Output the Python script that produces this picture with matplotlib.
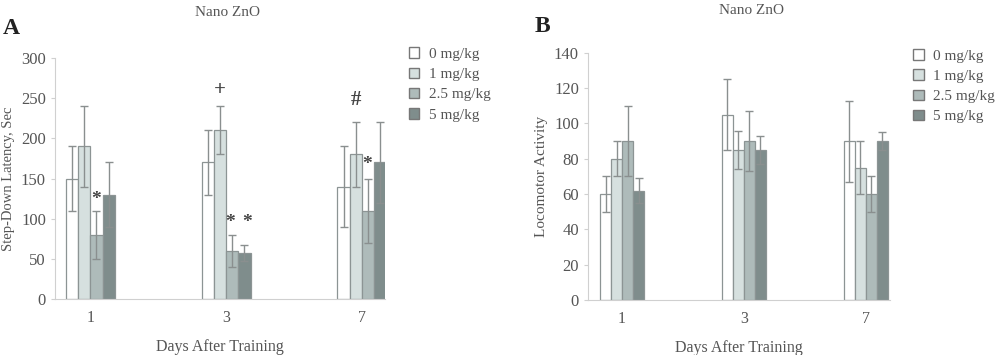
import numpy as np
import matplotlib
matplotlib.use('Agg')
import matplotlib.pyplot as plt
from matplotlib.patches import Patch

days = ['1', '3', '7']
doses = ['0 mg/kg', '1 mg/kg', '2.5 mg/kg', '5 mg/kg']
colors = ['#ffffff', '#d6e0df', '#aebbba', '#7f8d8c']

# step-down latency (sec), mean and error, rows = dose, cols = day
lat_mean = [[150, 170, 140],
            [190, 210, 180],
            [80, 60, 110],
            [130, 57, 170]]
lat_err = [[40, 40, 50],
           [50, 30, 40],
           [30, 20, 40],
           [40, 10, 50]]

# locomotor activity
loc_mean = [[60, 105, 90],
            [80, 85, 75],
            [90, 90, 60],
            [62, 85, 90]]
loc_err = [[10, 20, 23],
           [10, 11, 15],
           [20, 17, 10],
           [7, 8, 5]]

# significance marks: (day index, dose index, y, text)
lat_marks = [(0, 2, 124, '*'), (1, 1, 260, '+'), (1, 2, 96, '*'),
             (1, 3, 96, '*'), (2, 1, 248, '#'), (2, 2, 168, '*')]
mark_dx = [0, 0, -0.015, 0.02, 0, -0.01]

plt.rcParams['font.family'] = ['Liberation Serif', 'DejaVu Serif']
txt = '#555555'
edge = '#8c9494'

fig = plt.figure(figsize=(10, 3.55), dpi=100)
axA = fig.add_axes([0.055, 0.157, 0.33, 0.68])
axB = fig.add_axes([0.588, 0.155, 0.302, 0.696])

w = 0.09
x = np.arange(len(days))


def draw(ax, mean, err, ymax, step, ylabel, xlim, ylsize, tx, tpad, lgy):
    for i in range(len(doses)):
        ax.bar(x + (i - 1.5) * w, mean[i], w, color=colors[i],
               edgecolor=edge, linewidth=0.9, yerr=err[i],
               error_kw=dict(ecolor='#8a8f8f', elinewidth=1.0, capsize=3,
                             capthick=1.0), zorder=2)
    ax.set_ylim(0, ymax)
    ax.set_yticks(np.arange(0, ymax + 1, step))
    ax.set_xlim(*xlim)
    ax.set_xticks(x)
    ax.set_xticklabels(days)
    for s in ['top', 'right']:
        ax.spines[s].set_visible(False)
    ax.spines['left'].set_color('#d0d0d0')
    ax.spines['bottom'].set_color('#d0d0d0')
    ax.tick_params(axis='y', colors=txt, labelsize=12, length=3,
                   color='#d0d0d0')
    ax.tick_params(axis='x', colors=txt, labelsize=11.5, length=0, pad=8)
    ax.set_xlabel('Days After Training', color=txt, fontsize=11.5, labelpad=9)
    ax.set_ylabel(ylabel, color=txt, fontsize=ylsize)
    ax.set_title('Nano ZnO', color=txt, fontsize=11, pad=tpad, x=tx)
    handles = [Patch(facecolor=c, edgecolor='#777777', linewidth=1.0)
               for c in colors]
    ax.legend(handles, doses, loc='upper left', bbox_to_anchor=(1.03, lgy),
              frameon=False, fontsize=11, labelcolor=txt,
              handlelength=0.7, handleheight=0.7, handletextpad=0.6,
              labelspacing=0.42)


draw(axA, lat_mean, lat_err, 300, 50, 'Step-Down Latency, Sec', (-0.26, 2.17),
     10.5, 0.524, 30, 1.1)
draw(axB, loc_mean, loc_err, 140, 20, 'Locomotor Activity', (-0.28, 2.2),
     11, 0.543, 28, 1.07)

for (d, i, yv, t), dx in zip(lat_marks, mark_dx):
    axA.text(d + (i - 1.5) * w + dx, yv, t, ha='center', va='center',
             fontsize=15 if t != '*' else 14, fontweight='bold',
             color='#444444')

fig.text(0.003, 0.905, 'A', fontsize=17, fontweight='bold', color='#222222')
fig.text(0.535, 0.91, 'B', fontsize=17, fontweight='bold', color='#222222')

fig.savefig('out.png', dpi=100)
